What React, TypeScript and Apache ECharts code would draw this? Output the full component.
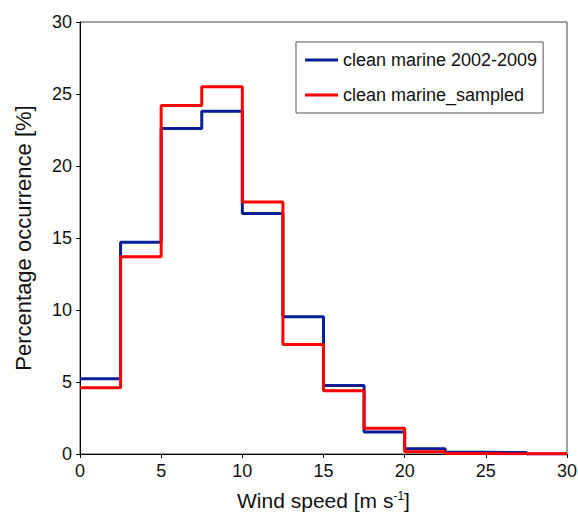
import React, { useEffect, useRef } from "react";
import * as echarts from "echarts";

const binEdges = [0, 2.5, 5, 7.5, 10, 12.5, 15, 17.5, 20, 22.5, 25, 27.5, 30];
const blueValues = [5.23, 14.7, 22.6, 23.8, 16.7, 9.53, 4.75, 1.53, 0.37, 0.12, 0.1, 0];
const redValues = [4.6, 13.7, 24.2, 25.5, 17.5, 7.6, 4.4, 1.78, 0.16, 0.03, 0.02, 0.02];
const blueName = "clean marine 2002-2009";
const redName = "clean marine_sampled";
const xTicks = [0, 5, 10, 15, 20, 25, 30];
const yTicks = [0, 5, 10, 15, 20, 25, 30];

function stepPoints(vals: number[], lastEdge: number) {
  const pts: number[][] = vals.map((v, i) => [binEdges[i], v]);
  pts.push([lastEdge, vals[vals.length - 1]]);
  return pts;
}

export default function App() {
  const ref = useRef<HTMLDivElement>(null);
  useEffect(() => {
    if (!ref.current) return;
    const chart = echarts.init(ref.current, null, { renderer: "svg" });
    const font = "'Liberation Sans', Arial, Helvetica, sans-serif";
    chart.setOption({
      animation: false,
      textStyle: { fontFamily: font },
      grid: {
        left: 80,
        right: 11,
        top: 22,
        bottom: 58,
        show: true,
        borderColor: "#444",
        borderWidth: 1,
        containLabel: false,
        outerBoundsMode: "none",
      },
      legend: {
        left: 296,
        top: 42,
        orient: "vertical",
        data: [
          { name: blueName, icon: "rect" },
          { name: redName, icon: "rect" },
        ],
        borderColor: "#555",
        borderWidth: 1,
        padding: [8, 6, 8, 9],
        itemGap: 15,
        itemWidth: 33,
        itemHeight: 3,
        textStyle: { fontSize: 18, lineHeight: 20, color: "#111", fontFamily: font },
      },
      xAxis: {
        type: "value",
        min: 0,
        max: 30,
        interval: 5,
        name: "{n|Wind speed [m s}{s|-1}{n|]}",
        nameLocation: "middle",
        nameGap: 36,
        nameTextStyle: {
          rich: {
            n: { fontSize: 21, color: "#111", fontFamily: font, verticalAlign: "bottom", lineHeight: 21 },
            s: { fontSize: 12, color: "#111", fontFamily: font, verticalAlign: "top", lineHeight: 12 },
          },
        },
        axisLine: { show: true, lineStyle: { color: "#000", width: 1 } },
        axisTick: { show: true, inside: false, length: 4, lineStyle: { color: "#000" } },
        axisLabel: { fontSize: 18, color: "#111", margin: 8, fontFamily: font, formatter: (v: number) => (xTicks.includes(v) ? String(v) : "") },
        splitLine: { show: false },
      },
      yAxis: {
        type: "value",
        min: 0,
        max: 30,
        interval: 5,
        name: "Percentage occurrence [%]",
        nameLocation: "middle",
        nameGap: 46,
        nameTextStyle: { fontSize: 22, color: "#111", fontFamily: font },
        axisLine: { show: true, lineStyle: { color: "#000", width: 1 } },
        axisTick: { show: true, inside: false, length: 4, lineStyle: { color: "#000" } },
        axisLabel: { fontSize: 18, color: "#111", margin: 8, fontFamily: font, formatter: (v: number) => (yTicks.includes(v) ? String(v) : "") },
        splitLine: { show: false },
      },
      series: [
        {
          name: blueName,
          type: "line",
          step: "end",
          symbol: "none",
          data: stepPoints(blueValues, 30),
          lineStyle: { color: "#0a1e96", width: 3 },
          itemStyle: { color: "#0a1e96" },
        },
        {
          name: redName,
          type: "line",
          step: "end",
          symbol: "none",
          data: stepPoints(redValues, 30),
          lineStyle: { color: "#ff0000", width: 3 },
          itemStyle: { color: "#ff0000" },
        },
      ],
    });
    return () => chart.dispose();
  }, []);
  return <div ref={ref} style={{ width: 578, height: 512, position: "absolute", left: 0, top: 0 }} />;
}
